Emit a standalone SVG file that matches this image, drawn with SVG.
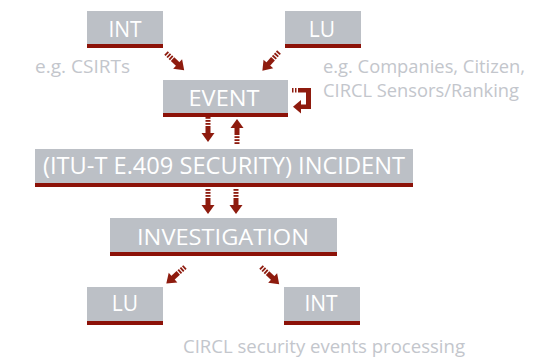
<svg xmlns="http://www.w3.org/2000/svg" width="560" height="358" viewBox="0 0 560 358">
<style>
.box{fill:#bcc0c6}
.bar{fill:#8c1208}
.lbl{font-family:"Open Sans","Liberation Sans",sans-serif;fill:#ffffff;text-anchor:middle}
.note{font-family:"Open Sans","Liberation Sans",sans-serif;fill:#c3c6cc;font-size:18px}
.ar{fill:#8e1b0e}
</style>
<defs>
<g id="arr" class="ar">
<rect x="0" y="-2.5" width="1.8" height="5"/>
<rect x="3" y="-2.5" width="1.8" height="5"/>
<rect x="6" y="-2.5" width="1.8" height="5"/>
<rect x="9" y="-2.5" width="8" height="5"/>
<polygon points="16,-6.5 25,0 16,6.5"/>
</g>
</defs>
<g id="connectors">
<use href="#arr" transform="translate(166,53) rotate(43.4)"/>
<use href="#arr" transform="translate(279,52) rotate(131.6)"/>
<g id="loop" class="ar">
<rect x="292" y="88" width="1.5" height="4.5"/>
<rect x="295" y="88" width="1.5" height="4.5"/>
<rect x="298" y="88" width="13" height="4.5"/>
<rect x="306" y="88" width="5" height="21"/>
<rect x="299" y="104.5" width="12" height="4.5"/>
<polygon points="301,100 293,106.7 301,113.5"/>
</g>
<use href="#arr" transform="translate(208,117) rotate(90)"/>
<use href="#arr" transform="translate(237,144) rotate(-90)"/>
<use href="#arr" transform="translate(208,189) rotate(90)"/>
<use href="#arr" transform="translate(236,189) rotate(90)"/>
<use href="#arr" transform="translate(185,267) rotate(138.4)"/>
<use href="#arr" transform="translate(261,267) rotate(43.3)"/>
</g>
<g id="int-top">
<rect class="box" x="87" y="11" width="76" height="33"/>
<rect class="bar" x="87" y="44" width="76" height="4"/>
<text class="lbl" x="125" y="37" font-size="21">INT</text>
</g>
<g id="lu-top">
<rect class="box" x="285" y="11" width="76" height="33"/>
<rect class="bar" x="285" y="44" width="76" height="4"/>
<text class="lbl" x="322" y="37" font-size="21">LU</text>
</g>
<g id="note-csirts">
<text class="note" x="35" y="73" textLength="95" lengthAdjust="spacingAndGlyphs">e.g. CSIRTs</text>
</g>
<g id="note-companies">
<text class="note" x="323" y="73" textLength="202" lengthAdjust="spacingAndGlyphs">e.g. Companies, Citizen,</text>
<text class="note" x="323" y="97" textLength="196" lengthAdjust="spacingAndGlyphs">CIRCL Sensors/Ranking</text>
</g>
<g id="event">
<rect class="box" x="163" y="80" width="125" height="33"/>
<rect class="bar" x="163" y="113" width="125" height="4"/>
<text class="lbl" x="224" y="106" font-size="21" textLength="71" lengthAdjust="spacingAndGlyphs">EVENT</text>
</g>
<g id="incident">
<rect class="box" x="35" y="149" width="378" height="34"/>
<rect class="bar" x="35" y="183" width="378" height="4"/>
<text class="lbl" x="224" y="174" font-size="24" textLength="362" lengthAdjust="spacingAndGlyphs">(ITU-T E.409 SECURITY) INCIDENT</text>
</g>
<g id="investigation">
<rect class="box" x="110" y="218" width="227" height="34"/>
<rect class="bar" x="110" y="252" width="227" height="4"/>
<text class="lbl" x="223" y="245" font-size="22" textLength="172" lengthAdjust="spacingAndGlyphs">INVESTIGATION</text>
</g>
<g id="lu-bottom">
<rect class="box" x="87" y="287" width="76" height="34"/>
<rect class="bar" x="87" y="321" width="76" height="4"/>
<text class="lbl" x="125" y="311" font-size="21">LU</text>
</g>
<g id="int-bottom">
<rect class="box" x="284" y="287" width="76" height="34"/>
<rect class="bar" x="284" y="321" width="76" height="4"/>
<text class="lbl" x="321" y="311" font-size="21">INT</text>
</g>
<g id="caption">
<text class="note" x="183" y="353" textLength="282" lengthAdjust="spacingAndGlyphs">CIRCL security events processing</text>
</g>
</svg>
